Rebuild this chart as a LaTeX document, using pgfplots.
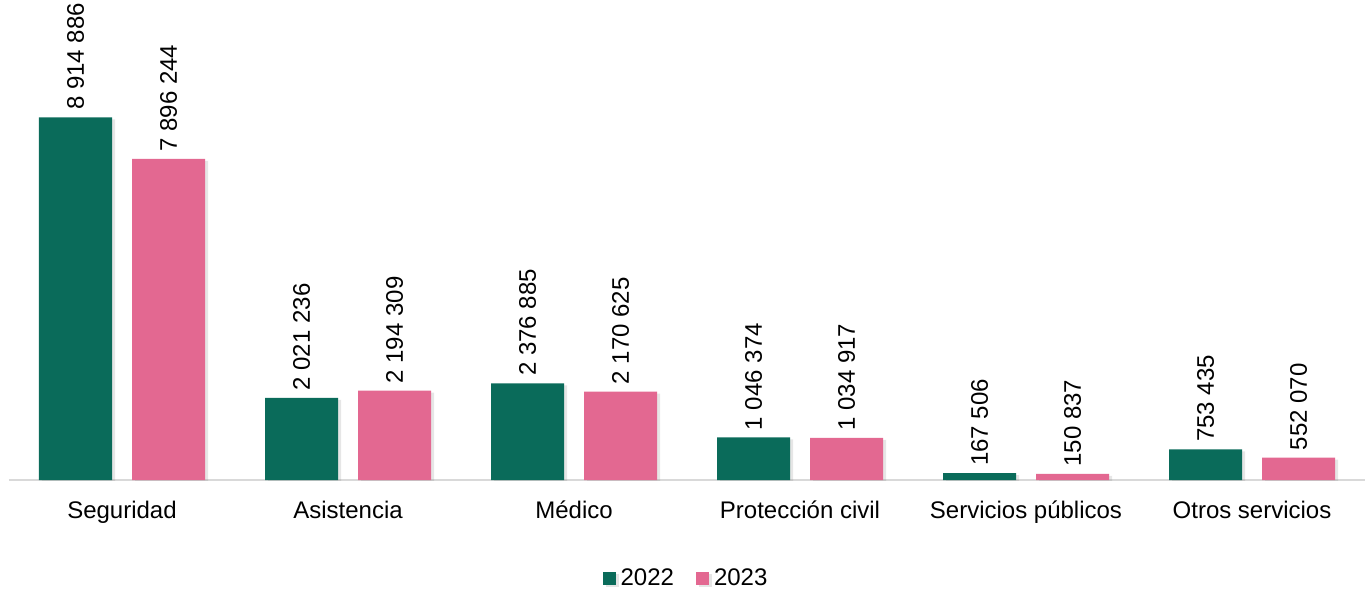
\documentclass[border=0pt]{standalone}
\usepackage{fontspec}
\setmainfont{Liberation Sans}
\usepackage{pgfplots}
\pgfplotsset{compat=1.18}
\usetikzlibrary{shadows}
\definecolor{verde}{HTML}{0A6B5A}
\definecolor{rosa}{HTML}{E36891}
\definecolor{eje}{HTML}{D9D9D9}
\begin{document}
\begin{tikzpicture}
\begin{axis}[
  scale only axis,
  width=678pt, height=240pt,
  ybar=10pt, bar width=36.5pt,
  xmin=-0.5, xmax=5.5,
  ymin=0, ymax=11.8e6,
  axis y line=none,
  axis x line*=bottom,
  x axis line style={eje, line width=0.8pt, -},
  xtick={0,1,2,3,4,5},
  xticklabels={Seguridad,Asistencia,Médico,Protección civil,Servicios públicos,Otros servicios},
  major tick length=0pt,
  xticklabel style={font=\fontsize{12}{14}\selectfont, yshift=-7pt},
  point meta=explicit symbolic,
  nodes near coords,
  nodes near coords style={rotate=90, anchor=west, inner sep=3.5pt, font=\fontsize{12}{14}\selectfont, black},
  legend columns=2,
  legend style={draw=none, at={(0.5,-0.205)}, anchor=center, font=\fontsize{12}{14}\selectfont,
    /tikz/every even column/.append style={column sep=9pt}},
  legend image code/.code={\fill[#1] (0pt,-3.3pt) rectangle (6.5pt,3.2pt); \path (7pt,0pt);},
  every axis plot/.append style={draw=none, drop shadow={shadow xshift=1.5pt, shadow yshift=-1pt, opacity=0.2}},
]
\addplot[fill=verde] coordinates {
  (0,8914886) [8 914 886]
  (1,2021236) [2 021 236]
  (2,2376885) [2 376 885]
  (3,1046374) [1 046 374]
  (4,167506) [167 506]
  (5,753435) [753 435]
};
\addlegendentry{2022}
\addplot[fill=rosa] coordinates {
  (0,7896244) [7 896 244]
  (1,2194309) [2 194 309]
  (2,2170625) [2 170 625]
  (3,1034917) [1 034 917]
  (4,150837) [150 837]
  (5,552070) [552 070]
};
\addlegendentry{2023}
\end{axis}
\pgfresetboundingbox
\path ([shift={(-4.5pt,-54pt)}]current axis.south west) rectangle ([shift={(3pt,0pt)}]current axis.north east);
\end{tikzpicture}
\end{document}
